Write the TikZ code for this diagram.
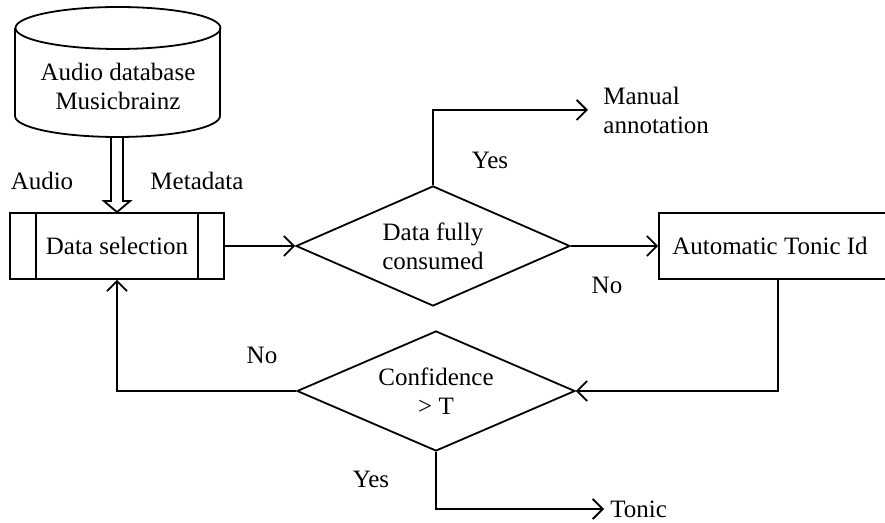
\documentclass[tikz,border=0pt]{standalone}
\usepackage{fontspec}
\setmainfont{Liberation Serif}
\usetikzlibrary{arrows.meta,positioning,calc,shapes.geometric}

\begin{document}
\begin{tikzpicture}[x=0.5pt, y=-0.5pt,
      every node/.style={font=\fontsize{12.5}{14.5}\selectfont},
      proc/.style={draw, line width=0.9pt, minimum width=107pt, minimum height=33pt, align=center},
      decision/.style={draw, diamond, line width=0.9pt, aspect=2.3, inner sep=0pt,
                       minimum width=137pt, minimum height=60pt, align=center},
      lbl/.style={inner sep=1pt},
      arr/.style={-{Straight Barb[length=5pt,width=10pt]}, line width=0.9pt}
  ]
    \useasboundingbox (0,0) rectangle (885,523);
    % database
    \node[align=center] (db) at (118,86) {Audio database\\Musicbrainz};
    \draw[line width=0.9pt] (118,28) ellipse [x radius=51.25pt, y radius=10.5pt];
    \draw[line width=0.9pt] (15,28) -- (15,116)
        arc[start angle=180, end angle=360, x radius=51.25pt, y radius=10.5pt] -- (220,28);
    \coordinate (dbbase) at (117,137);
    % boxes and decisions
    \node[proc] (ds) at (117,246) {Data selection};
    \draw[line width=0.9pt] ([xshift=13.5pt]ds.north west) -- ([xshift=13.5pt]ds.south west);
    \draw[line width=0.9pt] ([xshift=-13.5pt]ds.north east) -- ([xshift=-13.5pt]ds.south east);
    \node[decision] (d1) at (433,246) {Data fully\\consumed};
    \node[proc, minimum width=119pt] (ati) at (778,246) {\hspace*{-8pt}Automatic Tonic Id};
    \node[decision, minimum width=139pt] (d2) at (436,391) {Confidence\\> T};
    \node[align=left, anchor=west, inner sep=3pt] (man) at (597,110) {Manual\\annotation};
    \node[anchor=west, inner sep=3pt] (tonic) at (604,509) {Tonic};
    % hollow arrow
    \draw[line width=0.9pt] ($(dbbase)+(-6,0)$) -- ($(ds.north)+(-6,-11)$) -- ($(ds.north)+(-13,-11)$)
        -- (ds.north) -- ($(ds.north)+(13,-11)$) -- ($(ds.north)+(6,-11)$) -- ($(dbbase)+(6,0)$);
    \node[lbl] (audio) at (42,181) {Audio};
    \node[lbl] (meta) at (197,181) {Metadata};
    % connectors
    \draw[arr] (ds) -- (d1);
    \draw[arr] (d1) -- (ati);
    \draw[arr] (d1.north) |- ([xshift=-4.5pt]man.west);
    \draw[arr] (ati.south) |- (d2.east);
    \draw[arr] (d2.west) -| (ds.south);
    \draw[arr] (d2.south) |- (tonic.west);
    \node[lbl] (yes1) at (490,160) {Yes};
    \node[lbl] (no1) at (607,285) {No};
    \node[lbl] (no2) at (262,355) {No};
    \node[lbl] (yes2) at (371,479) {Yes};
\end{tikzpicture}
\end{document}
